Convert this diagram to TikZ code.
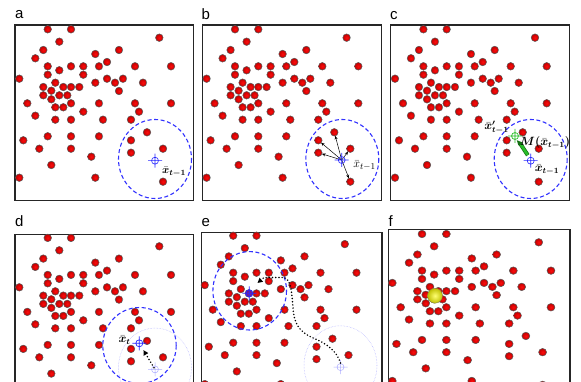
\documentclass[tikz,border=0pt]{standalone}
\usepackage{amsmath}
\usepackage{bm}
\usepackage{fontspec}
\setmainfont{Liberation Sans}
\usetikzlibrary{arrows.meta}
\definecolor{dashblue}{RGB}{50,50,255}
\definecolor{xblue}{RGB}{40,40,255}
\definecolor{faintblue}{RGB}{175,175,255}
\definecolor{xgreen}{RGB}{40,190,40}
\definecolor{dkgreen}{RGB}{20,110,20}
\def\dotlist{47.7/29.3, 71/29.3, 159.3/37.7, 59.3/41.7, 43.3/50, 119/50, 95.3/54, 35.3/58.3, 107/62, 47.7/66.3, 71/66.3, 83.3/66.3, 99/66.3, 135/66.3, 171/66.3, 59.3/70.3, 47.7/74.7, 83.3/74.7, 19.3/78.7, 107/78.7, 123/78.7, 115/82.7, 55.3/82.7, 95.3/82.7, 143/82.7, 43.3/87, 63.3/87, 71/87, 79.3/87, 51.3/90.7, 119/91, 43.3/95.3, 59.3/95.3, 67.3/95.3, 51.3/99.3, 27.3/103.3, 71/103.3, 99/103.3, 135/103.3, 171/103.3, 55.3/107.3, 63.3/107.3, 139/111.7, 83.3/111.7, 35.3/115.7, 55.3/119.7, 71/119.7, 103/119.7, 131/119.7, 147/132.3, 47.7/136.3, 71/136.3, 99/136.3, 23.3/140.3, 131/140.3, 39.3/148.7, 71/148.7, 163/148.7, 131/152.7, 91.3/156.7, 51.3/165, 19.3/177.7, 95.3/177.7, 163/181.7}
\newcommand\drawmydots{\foreach \x/\y in \dotlist {\shadedraw[reddot] (\x,\y) circle[radius=3.8];}}
\begin{document}
\begin{tikzpicture}[x=1pt,y=-1pt,
  reddot/.style={draw=black!65, line width=0.5pt, inner color=red!95!white, outer color=red!75!black},
  frame/.style={draw=black!85, line width=1.1pt},
  plabel/.style={anchor=base west, inner sep=0pt, font=\fontsize{15}{15}\selectfont},
  mlabel/.style={inner sep=0pt},
  bigcirc/.style={draw=dashblue, line width=1.1pt, dash pattern=on 4pt off 2.6pt},
  faintcirc/.style={draw=faintblue, line width=0.5pt, densely dotted},
  xhair/.pic={\draw[pic actions] (0,0) circle[radius=3.5] (-7,0) -- (7,0) (0,-7) -- (0,7);},
  smallarrow/.style={draw=black, line width=0.5pt, -{Stealth[length=3.5pt,width=3pt]}, shorten >=3.8pt},
  dotarrow/.style={draw=black, line width=1.7pt, line cap=round, dash pattern=on 0pt off 3.2pt, -{Triangle[length=5pt,width=5pt]}}]
\clip (0,0) rectangle (581,382);
\fill[white] (0,0) rectangle (581,382);
% ---- panel labels
\node[plabel] (la) at (15,19) {a};
\node[plabel] (lb) at (201.5,19.3) {b};
\node[plabel] (lc) at (390,19.3) {c};
\node[plabel] (ld) at (15,226.5) {d};
\node[plabel] (le) at (201.5,226.5) {e};
\node[plabel] (lf) at (388.5,227) {f};
% ---- frames
\draw[frame] (15,25) rectangle (193.5,200.3);
\draw[frame] (202.3,25) rectangle (381.8,200.3);
\draw[frame] (390.7,25) rectangle (569.3,200.3);
\draw[frame] (15,234.3) rectangle (193.3,410);
\draw[frame] (201.7,232.3) rectangle (382,410);
\draw[frame] (388.3,229.3) rectangle (570,410);
% ---- dots
\drawmydots
\begin{scope}[shift={(187.3,0)}]\drawmydots\end{scope}
\begin{scope}[shift={(375.7,0)}]\drawmydots\end{scope}
\begin{scope}[shift={(0,208.6)}]\drawmydots\end{scope}
\begin{scope}[shift={(185.5,206.4)}]\drawmydots\end{scope}
\begin{scope}[shift={(372.1,205)}, xscale=1.046, yscale=0.99]\drawmydots\end{scope}
% ---- panel a
\draw[bigcirc] (155,159) ellipse[x radius=36.5, y radius=39.5];
\pic[draw=xblue, line width=0.6pt] at (155,160.7) {xhair};
\node[mlabel] (xa) at (174,172) {\fontsize{11}{11}\selectfont$\bm{\bar{x}_{t-1}}$};
% ---- panel b
\draw[bigcirc] (342.3,159) ellipse[x radius=36.5, y radius=39.5];
\coordinate (bc) at (341.7,160);
\foreach \n/\x/\y in {1/334.3/132.3, 2/318.3/140.3, 3/318.3/152.7, 4/350.3/148.7, 5/350.3/181.7}{
  \coordinate (bd\n) at (\x,\y);
  \draw[smallarrow] (bc) -- (bd\n);}
\pic[draw=xblue, line width=0.6pt] at (bc) {xhair};
\node[mlabel] (xb) at (364.5,165.5) {\fontsize{13}{13}\selectfont$\bar{x}_{t-1}$};
% ---- panel c
\draw[bigcirc] (530.7,159) ellipse[x radius=36.5, y radius=39.5];
\coordinate (cb) at (530.7,160.7);
\coordinate (cg) at (515,136);
\draw[line width=4pt, dkgreen] (527.8,155.2) -- (520.2,143.6);
\draw[line width=2.6pt, xgreen] (527.6,154.9) -- (520.6,144.2);
\fill[dkgreen] (516.8,140.2) -- (522.8,142.6) -- (518.4,145.4) -- cycle;
\pic[draw=xblue, line width=0.6pt] at (cb) {xhair};
\pic[draw=xgreen, line width=0.7pt] at (cg) {xhair};
\node[mlabel] (xc1) at (496.5,127.5) {\fontsize{12}{12}\selectfont$\bm{\bar{x}'_{t-1}}$};
\node[mlabel] (xc2) at (545,142.5) {\fontsize{12}{12}\selectfont$\bm{M(\bar{x}_{t-1})}$};
\node[mlabel] (xc3) at (547,170) {\fontsize{12}{12}\selectfont$\bm{\bar{x}_{t-1}}$};
% ---- panel d
\draw[faintcirc] (155,367.6) ellipse[x radius=36.5, y radius=39.5];
\pic[draw=faintblue, line width=0.5pt] at (155,369.4) {xhair};
\draw[bigcirc] (139.5,345.5) ellipse[x radius=36.7, y radius=38];
\coordinate (dold) at (155,369.4);
\coordinate (dnew) at (139.3,343.3);
\draw[dotarrow, shorten <=2pt, shorten >=8pt] (dold) -- (dnew);
\pic[draw=xblue, line width=0.7pt] at (dnew) {xhair};
\node[mlabel] (xd) at (124.5,340) {\fontsize{12}{12}\selectfont$\bm{\bar{x}_t}$};
% ---- panel e
\draw[faintcirc] (340.5,365.3) ellipse[x radius=36.5, y radius=39.5];
\coordinate (eold) at (340.5,367.1);
\pic[draw=faintblue, line width=0.5pt] at (eold) {xhair};
\draw[bigcirc] (249.7,290.8) ellipse[x radius=36.8, y radius=39.2];
\coordinate (es) at (340.5,363);
\coordinate (ee) at (257.5,283);
\draw[dotarrow] (es) .. controls (337,351) and (326,343) .. (312,337.5) .. controls (298,331) and (294,322) .. (293,308) .. controls (292,294) and (291,279) .. (284,277.5) -- (264,277.5) -- (ee);
\fill[xblue, opacity=0.55] (249.3,293.3) circle[radius=4];
\pic[draw=xblue, line width=0.7pt] at (249.3,293.3) {xhair};
% ---- panel f
\shade[inner color=yellow!55!white, outer color=yellow!75!black] (435,295.7) circle[radius=7.5];
\draw[yellow!45!black, line width=0.4pt] (435,295.7) circle[radius=7.5];
\end{tikzpicture}
\end{document}
